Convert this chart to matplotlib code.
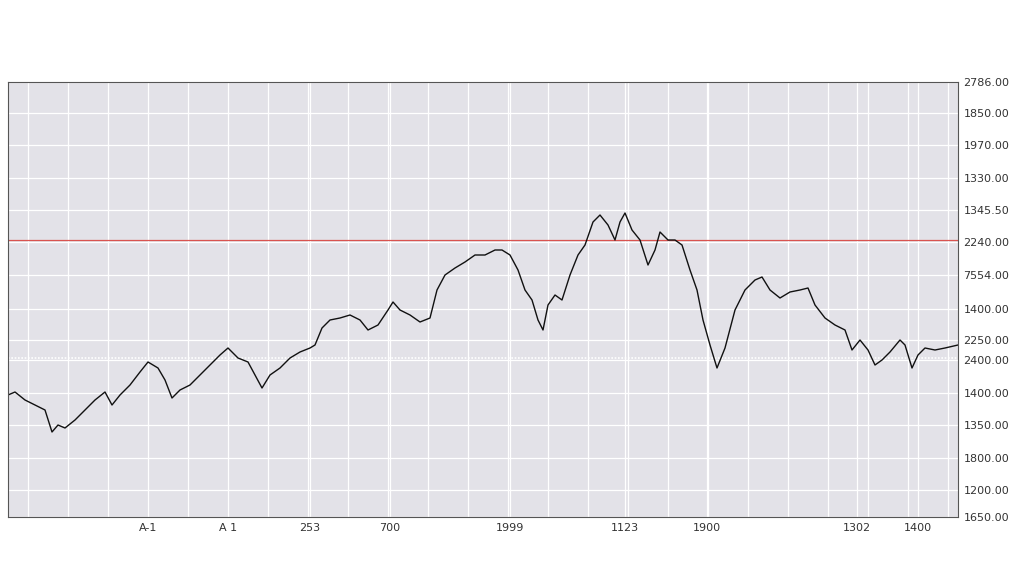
import matplotlib.pyplot as plt
import numpy as np

# trace of the series (x position, level)
xs = [8, 15, 25, 35, 45, 52, 58, 65, 75, 85, 95, 105, 112, 120, 130, 140, 148, 158, 165, 172,
      180, 190, 200, 210, 220, 228, 238, 248, 255, 262, 270, 280, 290, 300, 310, 315, 322, 330,
      340, 350, 360, 368, 378, 388, 393, 400, 410, 420, 430, 437, 445, 455, 465, 475, 485, 495,
      502, 510, 518, 525, 532, 538, 543, 548, 555, 562, 570, 578, 585, 593, 600, 608, 615, 620,
      625, 632, 640, 648, 655, 660, 668, 675, 682, 690, 697, 703, 710, 717, 725, 735, 745, 755,
      762, 770, 780, 790, 800, 808, 815, 825, 835, 845, 852, 860, 868, 875, 882, 890, 900, 905,
      912, 918, 925, 935, 945, 958]
py = [395, 392, 400, 405, 410, 432, 425, 428, 420, 410, 400, 392, 405, 395, 385, 372, 362, 368,
      380, 398, 390, 385, 375, 365, 355, 348, 358, 362, 375, 388, 375, 368, 358, 352, 348, 345,
      328, 320, 318, 315, 320, 330, 325, 310, 302, 310, 315, 322, 318, 290, 275, 268, 262, 255,
      255, 250, 250, 255, 270, 290, 300, 320, 330, 305, 295, 300, 275, 255, 245, 222, 215, 225,
      240, 222, 213, 230, 240, 265, 250, 232, 240, 240, 245, 270, 290, 320, 345, 368, 348, 310,
      290, 280, 277, 290, 298, 292, 290, 288, 305, 318, 325, 330, 350, 340, 350, 365, 360, 352,
      340, 345, 368, 355, 348, 350, 348, 345]
vals = [517 - p for p in py]

ytick_pos = [435, 404, 372, 339, 307, 275, 242, 208, 177, 157, 124, 92, 59, 27, 0]
ytick_labels = ["2786.00", "1850.00", "1970.00", "1330.00", "1345.50", "2240.00", "7554.00",
                "1400.00", "2250.00", "2400.00", "1400.00", "1350.00", "1800.00", "1200.00",
                "1650.00"]
xtick_pos = [148, 228, 310, 390, 510, 625, 707, 857, 918]
xtick_labels = ["A-1", "A 1", "253", "700", "1999", "1123", "1900", "1302", "1400"]
ref_level = 277
dotted_level = 159

fig = plt.figure(figsize=(10.24, 5.85), dpi=100)
ax = fig.add_axes([8/1024, 68/585, 950/1024, 435/585])
ax.set_facecolor("#e3e2e8")
ax.set_xlim(8, 958)
ax.set_ylim(0, 435)

ax.set_xticks(np.arange(28, 958, 40), minor=True)
ax.set_xticks(xtick_pos)
ax.set_xticklabels(xtick_labels, fontsize=8, color="#333333")
ax.yaxis.tick_right()
ax.set_yticks(ytick_pos)
ax.set_yticklabels(ytick_labels, fontsize=8, color="#333333")
ax.tick_params(length=0, pad=4)
ax.tick_params(which="minor", length=0)
ax.grid(True, which="both", color="white", linewidth=0.9)
ax.set_axisbelow(True)

ax.axhline(ref_level, color="#d9534f", linewidth=0.9)
ax.axhline(dotted_level, color="white", linewidth=1.2, linestyle=(0, (1, 1)))
ax.plot(xs, vals, color="#111111", linewidth=1.0)

for s in ax.spines.values():
    s.set_color("#555555")
    s.set_linewidth(0.8)

fig.savefig("out.png", dpi=100)
